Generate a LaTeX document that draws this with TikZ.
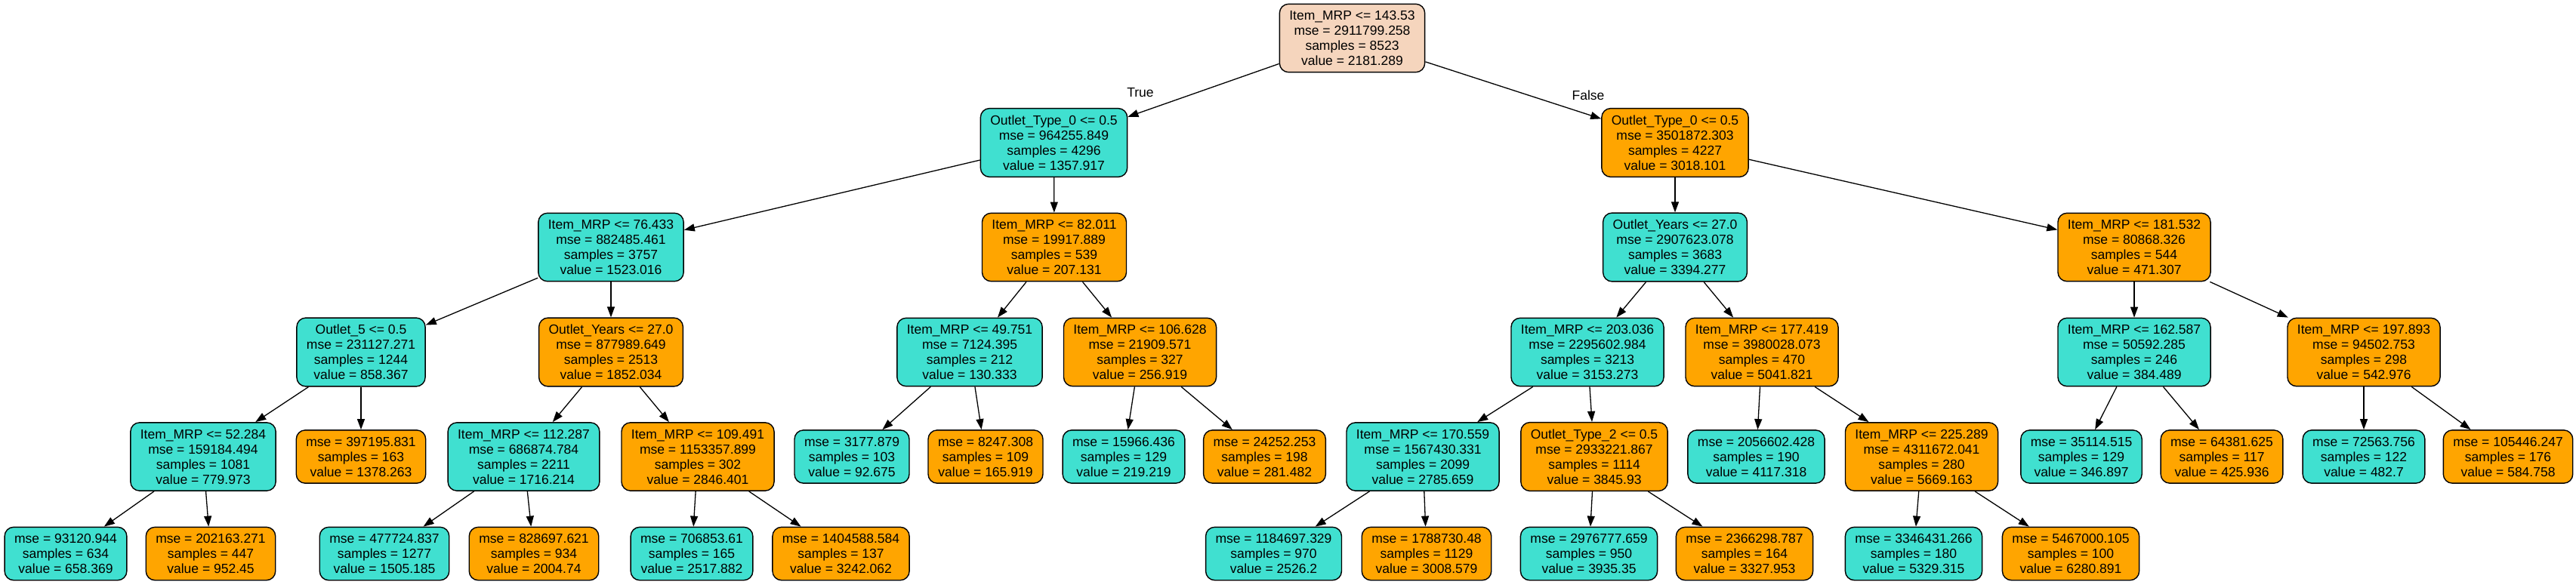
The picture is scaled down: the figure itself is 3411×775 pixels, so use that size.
\documentclass[tikz,border=0pt]{standalone}
\usepackage{fontspec}
\setmainfont{Liberation Sans}
\usetikzlibrary{arrows.meta}

\tikzset{every picture/.style={line width=0.65pt}}
\tikzset{
	box/.style={draw={rgb, 255:red, 0; green, 0; blue, 0 }, line width=0.7pt, rounded corners=6pt, align=center, inner xsep=6.5pt, inner ysep=4.5pt, font=\fontsize{8.75pt}{10pt}\selectfont},
	turq/.style={box, fill={rgb, 255:red, 64; green, 224; blue, 208 }},
	orng/.style={box, fill={rgb, 255:red, 255; green, 165; blue, 0 }},
	peach/.style={box, fill={rgb, 255:red, 245; green, 213; blue, 189 }},
	edge/.style={-{Triangle[length=7pt,width=5pt]}, line width=0.65pt},
	lbl/.style={inner sep=0pt, font=\fontsize{8.75pt}{10pt}\selectfont}
}

\begin{document}
\begin{tikzpicture}[x=0.5pt,y=0.5pt,yscale=-1,xscale=1]
			%set diagram left start at 0, and has height of 775
			\useasboundingbox (0,0) rectangle (3411,775);
			%Shape: Rounded Rect [root]
			\node[peach] (n0) at (1790.5,50.5) {Item\_MRP <= 143.53\\mse = 2911799.258\\samples = 8523\\value = 2181.289};

			%Shape: Rounded Rect [true branch]
			\node[turq] (n1) at (1395.5,189) {Outlet\_Type\_0 <= 0.5\\mse = 964255.849\\samples = 4296\\value = 1357.917};
			\node[turq] (n2) at (809,327.5) {Item\_MRP <= 76.433\\mse = 882485.461\\samples = 3757\\value = 1523.016};
			\node[turq] (n3) at (478,466.5) {Outlet\_5 <= 0.5\\mse = 231127.271\\samples = 1244\\value = 858.367};
			\node[turq] (n4) at (269,605) {Item\_MRP <= 52.284\\mse = 159184.494\\samples = 1081\\value = 779.973};
			\node[turq] (n5) at (87,733.5) {mse = 93120.944\\samples = 634\\value = 658.369};
			\node[orng] (n6) at (279,733.5) {mse = 202163.271\\samples = 447\\value = 952.45};
			\node[orng] (n7) at (478,605) {mse = 397195.831\\samples = 163\\value = 1378.263};
			\node[orng] (n8) at (809,466.5) {Outlet\_Years <= 27.0\\mse = 877989.649\\samples = 2513\\value = 1852.034};
			\node[turq] (n9) at (693.5,605) {Item\_MRP <= 112.287\\mse = 686874.784\\samples = 2211\\value = 1716.214};
			\node[turq] (n10) at (509,733.5) {mse = 477724.837\\samples = 1277\\value = 1505.185};
			\node[orng] (n11) at (707,733.5) {mse = 828697.621\\samples = 934\\value = 2004.74};
			\node[orng] (n12) at (924,605) {Item\_MRP <= 109.491\\mse = 1153357.899\\samples = 302\\value = 2846.401};
			\node[turq] (n13) at (916,733.5) {mse = 706853.61\\samples = 165\\value = 2517.882};
			\node[orng] (n14) at (1113.5,733.5) {mse = 1404588.584\\samples = 137\\value = 3242.062};
			\node[orng] (n15) at (1396,327.5) {Item\_MRP <= 82.011\\mse = 19917.889\\samples = 539\\value = 207.131};
			\node[turq] (n16) at (1284,466.5) {Item\_MRP <= 49.751\\mse = 7124.395\\samples = 212\\value = 130.333};
			\node[turq] (n17) at (1128,605) {mse = 3177.879\\samples = 103\\value = 92.675};
			\node[orng] (n18) at (1305,605) {mse = 8247.308\\samples = 109\\value = 165.919};
			\node[orng] (n19) at (1509.5,466.5) {Item\_MRP <= 106.628\\mse = 21909.571\\samples = 327\\value = 256.919};
			\node[turq] (n20) at (1488,605) {mse = 15966.436\\samples = 129\\value = 219.219};
			\node[orng] (n21) at (1674.5,605) {mse = 24252.253\\samples = 198\\value = 281.482};

			%Shape: Rounded Rect [false branch]
			\node[orng] (n22) at (2218,189) {Outlet\_Type\_0 <= 0.5\\mse = 3501872.303\\samples = 4227\\value = 3018.101};
			\node[turq] (n23) at (2218,327.5) {Outlet\_Years <= 27.0\\mse = 2907623.078\\samples = 3683\\value = 3394.277};
			\node[turq] (n24) at (2102,466.5) {Item\_MRP <= 203.036\\mse = 2295602.984\\samples = 3213\\value = 3153.273};
			\node[turq] (n25) at (1884,605) {Item\_MRP <= 170.559\\mse = 1567430.331\\samples = 2099\\value = 2785.659};
			\node[turq] (n26) at (1686.5,733.5) {mse = 1184697.329\\samples = 970\\value = 2526.2};
			\node[orng] (n27) at (1889,733.5) {mse = 1788730.48\\samples = 1129\\value = 3008.579};
			\node[orng] (n28) at (2111,605) {Outlet\_Type\_2 <= 0.5\\mse = 2933221.867\\samples = 1114\\value = 3845.93};
			\node[turq] (n29) at (2104,733.5) {mse = 2976777.659\\samples = 950\\value = 3935.35};
			\node[orng] (n30) at (2310,733.5) {mse = 2366298.787\\samples = 164\\value = 3327.953};
			\node[orng] (n31) at (2333,466.5) {Item\_MRP <= 177.419\\mse = 3980028.073\\samples = 470\\value = 5041.821};
			\node[turq] (n32) at (2325.5,605) {mse = 2056602.428\\samples = 190\\value = 4117.318};
			\node[orng] (n33) at (2544.5,605) {Item\_MRP <= 225.289\\mse = 4311672.041\\samples = 280\\value = 5669.163};
			\node[turq] (n34) at (2534,733.5) {mse = 3346431.266\\samples = 180\\value = 5329.315};
			\node[orng] (n35) at (2742,733.5) {mse = 5467000.105\\samples = 100\\value = 6280.891};
			\node[orng] (n36) at (2826,327.5) {Item\_MRP <= 181.532\\mse = 80868.326\\samples = 544\\value = 471.307};
			\node[turq] (n37) at (2826,466.5) {Item\_MRP <= 162.587\\mse = 50592.285\\samples = 246\\value = 384.489};
			\node[turq] (n38) at (2756,605) {mse = 35114.515\\samples = 129\\value = 346.897};
			\node[orng] (n39) at (2942,605) {mse = 64381.625\\samples = 117\\value = 425.936};
			\node[orng] (n40) at (3130,466.5) {Item\_MRP <= 197.893\\mse = 94502.753\\samples = 298\\value = 542.976};
			\node[turq] (n41) at (3130,605) {mse = 72563.756\\samples = 122\\value = 482.7};
			\node[orng] (n42) at (3321,605) {mse = 105446.247\\samples = 176\\value = 584.758};

			%Straight Lines
			\draw[edge] (n0) -- (n1);
			\draw[edge] (n0) -- (n22);
			\draw[edge] (n1) -- (n2);
			\draw[edge] (n1) -- (n15);
			\draw[edge] (n2) -- (n3);
			\draw[edge] (n2) -- (n8);
			\draw[edge] (n3) -- (n4);
			\draw[edge] (n3) -- (n7);
			\draw[edge] (n4) -- (n5);
			\draw[edge] (n4) -- (n6);
			\draw[edge] (n8) -- (n9);
			\draw[edge] (n8) -- (n12);
			\draw[edge] (n9) -- (n10);
			\draw[edge] (n9) -- (n11);
			\draw[edge] (n12) -- (n13);
			\draw[edge] (n12) -- (n14);
			\draw[edge] (n15) -- (n16);
			\draw[edge] (n15) -- (n19);
			\draw[edge] (n16) -- (n17);
			\draw[edge] (n16) -- (n18);
			\draw[edge] (n19) -- (n20);
			\draw[edge] (n19) -- (n21);
			\draw[edge] (n22) -- (n23);
			\draw[edge] (n22) -- (n36);
			\draw[edge] (n23) -- (n24);
			\draw[edge] (n23) -- (n31);
			\draw[edge] (n24) -- (n25);
			\draw[edge] (n24) -- (n28);
			\draw[edge] (n25) -- (n26);
			\draw[edge] (n25) -- (n27);
			\draw[edge] (n28) -- (n29);
			\draw[edge] (n28) -- (n30);
			\draw[edge] (n31) -- (n32);
			\draw[edge] (n31) -- (n33);
			\draw[edge] (n33) -- (n34);
			\draw[edge] (n33) -- (n35);
			\draw[edge] (n36) -- (n37);
			\draw[edge] (n36) -- (n40);
			\draw[edge] (n37) -- (n38);
			\draw[edge] (n37) -- (n39);
			\draw[edge] (n40) -- (n41);
			\draw[edge] (n40) -- (n42);

			% Text Node
			\node[lbl] (lblT) at (1510,123) {True};
			% Text Node
			\node[lbl] (lblF) at (2103,126) {False};

		\end{tikzpicture}
\end{document}
